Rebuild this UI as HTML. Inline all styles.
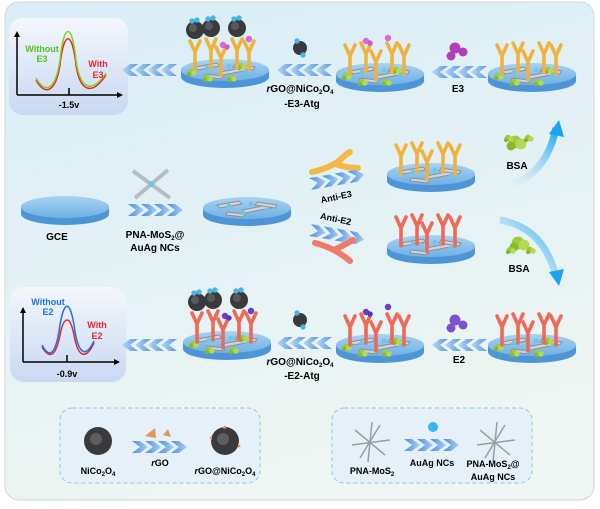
<!DOCTYPE html>
<html><head><meta charset="utf-8"><style>
html,body{margin:0;padding:0;background:#fff;}
svg{display:block;font-family:"Liberation Sans",sans-serif;font-weight:bold;}
</style></head><body>
<svg width="600" height="509" viewBox="0 0 600 509" xmlns="http://www.w3.org/2000/svg">
<defs>
<linearGradient id="bg" x1="0" y1="0" x2="0.3" y2="1"><stop offset="0" stop-color="#d8edf7"/><stop offset="1" stop-color="#eef5f2"/></linearGradient>
<linearGradient id="disk" x1="0" y1="0" x2="0" y2="1"><stop offset="0" stop-color="#a9d2f2"/><stop offset="1" stop-color="#6fb1e6"/></linearGradient>
<linearGradient id="gbox" x1="0" y1="0" x2="0" y2="1"><stop offset="0" stop-color="#f4f6fb"/><stop offset="1" stop-color="#c8d9f2"/></linearGradient>
<linearGradient id="chev" x1="0" y1="0" x2="1" y2="0"><stop offset="0" stop-color="#4b8fe0"/><stop offset="1" stop-color="#a9cdf3"/></linearGradient>
<linearGradient id="chevL" x1="1" y1="0" x2="0" y2="0"><stop offset="0" stop-color="#5b9ae2"/><stop offset="1" stop-color="#b6d6f5"/></linearGradient>
<linearGradient id="curv" x1="0" y1="1" x2="1" y2="0"><stop offset="0" stop-color="#e6f3fb" stop-opacity="0"/><stop offset="1" stop-color="#1aa3ee"/></linearGradient>
<g id="plate">
 <path d="M-44 0 v7 a44 11 0 0 0 88 0 v-7 z" fill="#4e95d8"/>
 <ellipse cx="0" cy="0" rx="44" ry="11" fill="url(#disk)"/>
 <g stroke="#8c8f94" stroke-width="1" fill="#cfd2d6">
  <path d="M-30 -3 l22 -4 l3 3 l-22 4z"/><path d="M-5 2 l26 -5 l3 3 l-26 5z"/><path d="M10 -6 l20 3 l-2 3 l-20 -3z"/><path d="M-20 4 l18 2 l-1 3 l-18 -2z"/>
 </g>
 <g fill="#6cc6ea"><circle cx="-18" cy="-2" r="2.4"/><circle cx="4" cy="-4" r="2.4"/><circle cx="20" cy="2" r="2.4"/><circle cx="-4" cy="5" r="2.4"/></g>
</g>
<g id="yo"><path d="M0 0 v-18 l-5 -11 M0 -18 l5 -11" stroke="#f0b23e" stroke-width="3.6" fill="none" stroke-linecap="round"/></g>
<g id="yr"><path d="M0 0 v-18 l-5 -11 M0 -18 l5 -11" stroke="#ee6a58" stroke-width="3.6" fill="none" stroke-linecap="round"/></g>
<g id="bsa"><circle cx="0" cy="0" r="3.2" fill="#9ccc3c"/><circle cx="3" cy="1" r="2.7" fill="#b3da50"/><circle cx="-2" cy="2" r="2.2" fill="#86b82c"/></g>
<g id="sph"><circle r="9" fill="#3a3a3c"/><circle cx="-2" cy="-2" r="4" fill="#5a5a5c"/><circle cx="-3" cy="-9" r="2.7" fill="#46b6e6"/><circle cx="2" cy="-10" r="2.7" fill="#46b6e6"/></g>
<g id="cl"><path d="M0 0 l8 -6 h8 l-8 6 l8 6 h-8z" fill="url(#chevL)"/><path d="M13 0 l8 -6 h8 l-8 6 l8 6 h-8z" fill="url(#chevL)"/><path d="M26 0 l8 -6 h8 l-8 6 l8 6 h-8z" fill="url(#chevL)"/><path d="M39 0 l8 -6 h8 l-8 6 l8 6 h-8z" fill="url(#chevL)"/></g>
<g id="cr"><path d="M0 -6 h8 l8 6 l-8 6 h-8 l8 -6z" fill="url(#chev)"/><path d="M13 -6 h8 l8 6 l-8 6 h-8 l8 -6z" fill="url(#chev)"/><path d="M26 -6 h8 l8 6 l-8 6 h-8 l8 -6z" fill="url(#chev)"/><path d="M39 -6 h8 l8 6 l-8 6 h-8 l8 -6z" fill="url(#chev)"/></g>
<g id="ysetO"><use href="#yo" x="-30" y="0"/><use href="#yo" x="-14" y="-2"/><use href="#yo" x="-4" y="6"/><use href="#yo" x="12" y="-2"/><use href="#yo" x="24" y="0"/></g>
<g id="ysetR"><use href="#yr" x="-30" y="0"/><use href="#yr" x="-14" y="-2"/><use href="#yr" x="-4" y="6"/><use href="#yr" x="12" y="-2"/><use href="#yr" x="24" y="0"/></g>
<g id="bsas"><use href="#bsa" x="-34" y="2"/><use href="#bsa" x="-18" y="8"/><use href="#bsa" x="16" y="-4"/><use href="#bsa" x="6" y="8"/></g>
</defs>
<rect x="0" y="0" width="600" height="509" fill="#fff"/>
<rect x="5" y="2" width="589" height="498" rx="14" fill="url(#bg)" stroke="#d0d6da"/>
<!-- graphs -->
<rect x="9" y="18" width="119" height="97" rx="14" fill="url(#gbox)"/>
<path d="M17 95 V35 M17 95 H119" stroke="#000" stroke-width="1.5" fill="none"/><path d="M17 31 l-3 6 h6z M123 95 l-6 -3 v6z" fill="#000"/>
<path d="M36 80 C46 98 56 90 60 65 C64 30 72 30 76 65 C80 92 92 96 106 75" stroke="#e8262c" stroke-width="1.5" fill="none"/>
<path d="M36 78 C46 96 56 88 60 60 C64 22 72 22 76 60 C80 90 92 94 106 73" stroke="#7ed321" stroke-width="1.5" fill="none"/>
<path d="M69 88 v7" stroke="#000" stroke-width="1.5"/>
<text x="42" y="52" font-size="9" fill="#55c21a" text-anchor="middle">Without</text><text x="42" y="62" font-size="9" fill="#55c21a" text-anchor="middle">E3</text>
<text x="98" y="67" font-size="9" fill="#e32a2e" text-anchor="middle">With</text><text x="98" y="78" font-size="9" fill="#e32a2e" text-anchor="middle">E3</text>
<text x="69" y="108" font-size="9" text-anchor="middle">-1.5v</text>

<rect x="10" y="287" width="116" height="95" rx="14" fill="url(#gbox)"/>
<path d="M23 362 V312 M23 362 H116" stroke="#000" stroke-width="1.5" fill="none"/><path d="M23 307 l-3 6 h6z M120 362 l-6 -3 v6z" fill="#000"/>
<path d="M42 347 C50 360 56 356 60 335 C64 315 70 315 74 335 C78 358 86 360 94 343" stroke="#e8262c" stroke-width="1.5" fill="none"/>
<path d="M42 345 C50 360 56 354 60 325 C64 300 70 300 74 325 C78 356 86 358 94 341" stroke="#1f6fe5" stroke-width="1.5" fill="none"/>
<path d="M67 355 v7" stroke="#000" stroke-width="1.5"/>
<text x="48" y="305" font-size="9" fill="#1f6fe5" text-anchor="middle">Without</text><text x="48" y="315" font-size="9" fill="#1f6fe5" text-anchor="middle">E2</text>
<text x="97" y="328" font-size="9" fill="#e32a2e" text-anchor="middle">With</text><text x="97" y="339" font-size="9" fill="#e32a2e" text-anchor="middle">E2</text>
<text x="67" y="377" font-size="9" text-anchor="middle">-0.9v</text>

<!-- top row -->
<use href="#cl" x="122" y="70"/><use href="#cl" x="277" y="70"/><use href="#cl" x="432" y="72"/>
<g transform="translate(225,70)"><use href="#plate"/><use href="#bsas"/><use href="#ysetO"/>
 <use href="#sph" x="-30" y="-40"/><use href="#sph" x="-14" y="-42"/><use href="#sph" x="12" y="-42"/>
 <circle cx="-2" cy="-25" r="3.2" fill="#dd66d8"/><circle cx="2" cy="-23" r="2.7" fill="#d05acc"/><circle cx="24" cy="-31" r="3.2" fill="#dd66d8"/></g>
<g transform="translate(380,74)"><use href="#plate"/><use href="#bsas"/><use href="#ysetO"/>
 <circle cx="-14" cy="-33" r="3.2" fill="#dd66d8"/><circle cx="-10" cy="-31" r="2.7" fill="#d05acc"/><circle cx="8" cy="-36" r="3.2" fill="#dd66d8"/></g>
<g transform="translate(532,74)"><use href="#plate"/><use href="#bsas"/><use href="#ysetO"/></g>
<g transform="translate(300,48)"><circle r="7" fill="#3a3a3c"/><circle cx="-3" cy="-7" r="2.7" fill="#46b6e6"/><circle cx="3" cy="7" r="2.7" fill="#46b6e6"/></g>
<g fill="#b23fb8"><circle cx="455" cy="48" r="5.5"/><circle cx="463" cy="52" r="4.5"/><circle cx="451" cy="56" r="4.5"/></g>
<text x="300" y="92" font-size="10" text-anchor="middle"><tspan font-style="italic">r</tspan>GO@NiCo<tspan font-size="6" dy="2">2</tspan><tspan dy="-2">O</tspan><tspan font-size="6" dy="2">4</tspan></text>
<text x="302" y="107" font-size="10" text-anchor="middle">-E3-Atg</text>
<text x="458" y="92" font-size="10" text-anchor="middle">E3</text>

<!-- middle row -->
<g transform="translate(65,207)"><path d="M-44 0 v7 a44 11 0 0 0 88 0 v-7 z" fill="#4e95d8"/><ellipse rx="44" ry="11" fill="url(#disk)"/></g>
<text x="57" y="240" font-size="10" text-anchor="middle">GCE</text>
<path d="M133 171 L170 198 M168 170 L135 198" stroke="#b8bcc0" stroke-width="4"/><circle cx="151" cy="184" r="3" fill="#6cc6ea"/>
<use href="#cr" x="128" y="210"/>
<text x="155" y="238" font-size="10" text-anchor="middle">PNA-MoS<tspan font-size="6" dy="2">2</tspan><tspan dy="-2">@</tspan></text>
<text x="155" y="251" font-size="10" text-anchor="middle">AuAg NCs</text>
<g transform="translate(247,208)"><use href="#plate"/></g>
<path d="M312 172 Q330 168 340 160 Q345 155 350 152 M336 164 Q346 168 358 168" stroke="#f3b944" stroke-width="6" fill="none" stroke-linecap="round"/>
<g transform="translate(310,184) rotate(-10)"><use href="#cr"/></g>
<text x="336" y="200" font-size="9" text-anchor="middle" transform="rotate(-12 336 196)">Anti-E3</text>
<text x="336" y="222" font-size="9" text-anchor="middle" transform="rotate(12 336 218)">Anti-E2</text>
<g transform="translate(310,230) rotate(10)"><use href="#cr"/></g>
<path d="M315 243 Q335 248 350 261 M336 249 Q346 244 353 240" stroke="#ef7a6a" stroke-width="6" fill="none" stroke-linecap="round"/>
<g transform="translate(431,174)"><use href="#plate"/><use href="#ysetO"/></g>
<g transform="translate(431,246)"><use href="#plate"/><use href="#ysetR"/></g>
<path d="M500 187 Q545 180 556 128" stroke="url(#curv)" stroke-width="7" fill="none"/><path d="M549 134 l10 -14 l5 17z" fill="#1aa3ee"/>
<path d="M500 220 Q545 228 556 278" stroke="url(#curv)" stroke-width="7" fill="none"/><path d="M549 272 l10 14 l5 -17z" fill="#1aa3ee"/>
<g transform="translate(515,142)"><use href="#bsa" transform="scale(2)"/></g><g transform="translate(508,138)"><use href="#bsa"/></g><g transform="translate(528,138)"><use href="#bsa"/></g>
<g transform="translate(518,243)"><use href="#bsa" transform="scale(2)"/></g><g transform="translate(510,250)"><use href="#bsa"/></g><g transform="translate(530,250)"><use href="#bsa"/></g>
<text x="517" y="169" font-size="10" text-anchor="middle">BSA</text>
<text x="519" y="272" font-size="10" text-anchor="middle">BSA</text>

<!-- bottom row -->
<use href="#cl" x="122" y="345"/><use href="#cl" x="277" y="343"/><use href="#cl" x="432" y="345"/>
<g transform="translate(227,342)"><use href="#plate"/><use href="#bsas"/><use href="#ysetR"/>
 <use href="#sph" x="-30" y="-40"/><use href="#sph" x="-14" y="-42"/><use href="#sph" x="12" y="-42"/>
 <circle cx="-2" cy="-26" r="3.2" fill="#6a3fc8"/><circle cx="2" cy="-24" r="2.7" fill="#5b35b8"/><circle cx="24" cy="-31" r="3.2" fill="#6a3fc8"/></g>
<g transform="translate(380,345)"><use href="#plate"/><use href="#bsas"/><use href="#ysetR"/>
 <circle cx="-14" cy="-33" r="3.2" fill="#6a3fc8"/><circle cx="-10" cy="-31" r="2.7" fill="#5b35b8"/><circle cx="8" cy="-38" r="3.2" fill="#6a3fc8"/></g>
<g transform="translate(532,345)"><use href="#plate"/><use href="#bsas"/><use href="#ysetR"/></g>
<g transform="translate(300,320)"><circle r="7" fill="#3a3a3c"/><circle cx="-3" cy="-7" r="2.7" fill="#46b6e6"/><circle cx="3" cy="7" r="2.7" fill="#46b6e6"/></g>
<g fill="#7a52d0"><circle cx="455" cy="320" r="5.5"/><circle cx="463" cy="325" r="4.5"/><circle cx="451" cy="328" r="4.5"/></g>
<text x="300" y="365" font-size="10" text-anchor="middle"><tspan font-style="italic">r</tspan>GO@NiCo<tspan font-size="6" dy="2">2</tspan><tspan dy="-2">O</tspan><tspan font-size="6" dy="2">4</tspan></text>
<text x="302" y="379" font-size="10" text-anchor="middle">-E2-Atg</text>
<text x="459" y="363" font-size="10" text-anchor="middle">E2</text>

<!-- legends -->
<rect x="60" y="408" width="200" height="75" rx="12" fill="#e5f0f8" stroke="#8fc4ec" stroke-dasharray="4 3"/>
<circle cx="98" cy="441" r="14" fill="#3a3a3c"/><circle cx="96" cy="439" r="6" fill="#5e5e60"/>
<path d="M145 436 l10 -8 l1 10z M163 435 l5 -6 l3 8z" fill="#e0975a"/>
<use href="#cr" x="132" y="447"/>
<circle cx="225" cy="441" r="14" fill="#3a3a3c"/><circle cx="223" cy="439" r="6" fill="#5e5e60"/>
<path d="M212 436 l-3 2 l3 2z M238 444 l3 2 l-3 2z M222 428 l3 -3 l1 4z" fill="#e0975a"/>
<text x="98" y="474" font-size="9" text-anchor="middle">NiCo<tspan font-size="6" dy="2">2</tspan><tspan dy="-2">O</tspan><tspan font-size="6" dy="2">4</tspan></text>
<text x="160" y="466" font-size="9" text-anchor="middle"><tspan font-style="italic">r</tspan>GO</text>
<text x="225" y="474" font-size="9" text-anchor="middle"><tspan font-style="italic">r</tspan>GO@NiCo<tspan font-size="6" dy="2">2</tspan><tspan dy="-2">O</tspan><tspan font-size="6" dy="2">4</tspan></text>

<rect x="332" y="408" width="200" height="75" rx="12" fill="#e5f0f8" stroke="#8fc4ec" stroke-dasharray="4 3"/>
<path d="M355 430 L385 455 M380 425 L360 458 M352 445 L390 440 M372 422 L368 462" stroke="#9a9ea3" stroke-width="1.5"/>
<circle cx="433" cy="427" r="5" fill="#3cb4ef"/>
<use href="#cr" x="404" y="445"/>
<path d="M480 430 L510 455 M505 425 L485 458 M477 445 L515 440 M497 422 L493 462" stroke="#9a9ea3" stroke-width="1.5"/>
<text x="372" y="474" font-size="9" text-anchor="middle">PNA-MoS<tspan font-size="6" dy="2">2</tspan></text>
<text x="432" y="466" font-size="9" text-anchor="middle">AuAg NCs</text>
<text x="493" y="467" font-size="9" text-anchor="middle">PNA-MoS<tspan font-size="6" dy="2">2</tspan><tspan dy="-2">@</tspan></text>
<text x="493" y="480" font-size="9" text-anchor="middle">AuAg NCs</text>
</svg>
</body></html>
